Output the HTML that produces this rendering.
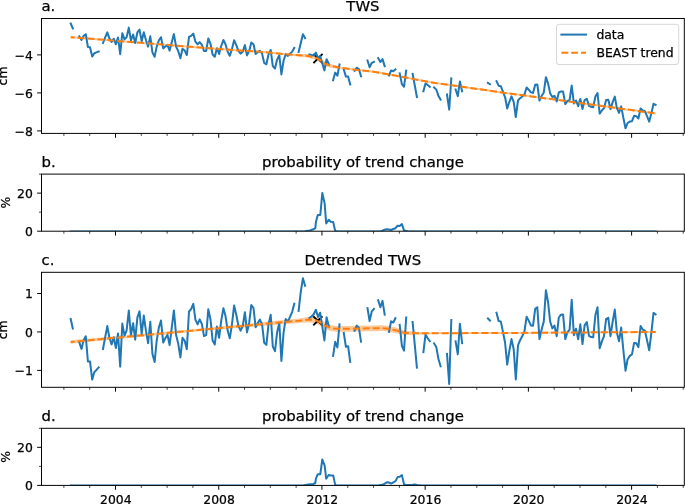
<!DOCTYPE html>
<html><head><meta charset="utf-8"><title>TWS BEAST trend</title><style>html,body{margin:0;padding:0;background:#fff}svg{display:block;will-change:transform;opacity:0.999}text{stroke:#000;stroke-width:0.25px}</style></head><body>
<svg width="685" height="504" viewBox="0 0 685 504" font-family="'DejaVu Sans', 'Liberation Sans', sans-serif">
<rect width="685" height="504" fill="#fff"/>
<g clip-path="url(#clipa)">
<clipPath id="clipa"><rect x="41.5" y="18.5" width="642.8" height="114.9"/></clipPath>
<polygon points="70.7,36.2 74.7,36.5 78.7,36.8 82.7,37.2 86.7,37.5 90.7,37.8 94.7,38.1 98.7,38.4 102.7,38.7 106.7,39.1 110.7,39.4 114.7,39.7 118.7,40.0 122.7,40.3 126.7,40.7 130.7,41.0 134.7,41.3 138.7,41.6 142.7,41.9 146.7,42.2 150.7,42.6 154.7,42.9 155.0,42.9 158.7,43.2 162.7,43.5 166.7,43.9 170.7,44.2 174.7,44.5 178.7,44.8 182.7,45.2 186.7,45.5 190.7,45.8 194.7,46.2 198.7,46.5 202.7,46.8 205.0,47.0 206.7,47.1 210.7,47.4 214.7,47.7 218.7,48.0 222.7,48.2 226.7,48.5 230.7,48.8 234.7,49.1 238.7,49.4 242.7,49.6 246.7,49.9 250.7,50.2 254.7,50.5 258.7,50.8 262.7,51.0 265.0,51.2 266.7,51.4 270.7,51.7 274.7,52.1 278.7,52.5 282.7,52.9 286.7,53.3 290.0,53.6 290.7,53.7 294.7,53.9 298.7,54.0 302.7,54.1 306.7,54.1 307.5,54.1 310.7,54.6 314.5,55.1 314.7,55.2 318.7,56.9 319.8,57.4 322.7,59.7 325.0,61.6 326.7,62.3 330.7,64.0 331.2,64.2 334.7,65.1 338.7,66.2 339.0,66.2 342.7,67.0 346.7,67.6 350.0,68.1 350.7,68.2 354.7,68.6 358.7,69.1 362.7,69.5 366.7,70.0 370.7,70.4 374.7,70.9 375.0,70.9 378.7,71.6 382.7,72.3 386.7,73.1 390.7,73.8 394.7,74.5 395.0,74.6 398.7,75.3 402.7,76.0 406.7,76.8 410.7,77.5 414.7,78.2 418.7,79.0 422.7,79.7 426.7,80.5 430.7,81.2 434.7,81.9 435.0,82.0 438.7,82.5 442.7,83.0 446.7,83.6 450.7,84.1 454.7,84.7 455.0,84.7 458.7,85.2 462.7,85.8 466.7,86.4 470.7,87.0 474.7,87.5 478.7,88.1 482.7,88.7 486.7,89.3 490.7,89.8 494.7,90.4 498.7,91.0 502.7,91.6 505.0,91.9 506.7,92.1 510.7,92.7 514.7,93.2 518.7,93.7 522.7,94.3 526.7,94.8 530.7,95.3 534.7,95.9 538.7,96.4 542.7,97.0 546.7,97.5 550.7,98.0 554.7,98.6 555.0,98.6 558.7,99.1 562.7,99.6 566.7,100.2 570.7,100.7 574.7,101.3 578.7,101.8 582.7,102.4 586.7,102.9 590.7,103.5 594.7,104.0 598.7,104.5 602.7,105.1 605.0,105.4 606.7,105.6 610.7,106.2 614.7,106.8 618.7,107.3 622.7,107.9 626.7,108.4 630.7,109.0 634.7,109.6 638.7,110.1 642.7,110.7 646.7,111.2 650.7,111.8 654.7,112.3 655.8,112.5 655.8,114.5 654.7,114.3 650.7,113.8 646.7,113.2 642.7,112.7 638.7,112.1 634.7,111.6 630.7,111.0 626.7,110.4 622.7,109.9 618.7,109.3 614.7,108.8 610.7,108.2 606.7,107.6 605.0,107.4 602.7,107.1 598.7,106.5 594.7,106.0 590.7,105.5 586.7,104.9 582.7,104.4 578.7,103.8 574.7,103.3 570.7,102.7 566.7,102.2 562.7,101.6 558.7,101.1 555.0,100.6 554.7,100.6 550.7,100.0 546.7,99.5 542.7,99.0 538.7,98.4 534.7,97.9 530.7,97.3 526.7,96.8 522.7,96.3 518.7,95.7 514.7,95.2 510.7,94.7 506.7,94.1 505.0,93.9 502.7,93.6 498.7,93.0 494.7,92.4 490.7,91.8 486.7,91.3 482.7,90.7 478.7,90.1 474.7,89.5 470.7,89.0 466.7,88.4 462.7,87.8 458.7,87.2 455.0,86.7 454.7,86.7 450.7,86.1 446.7,85.6 442.7,85.0 438.7,84.5 435.0,84.0 434.7,83.9 430.7,83.2 426.7,82.5 422.7,81.7 418.7,81.0 414.7,80.2 410.7,79.5 406.7,78.8 402.7,78.0 398.7,77.3 395.0,76.6 394.7,76.5 390.7,75.8 386.7,75.1 382.7,74.3 378.7,73.6 375.0,72.9 374.7,72.9 370.7,72.4 366.7,72.0 362.7,71.5 358.7,71.1 354.7,70.6 350.7,70.2 350.0,70.1 346.7,69.6 342.7,69.2 339.0,69.0 338.7,68.9 334.7,68.3 331.2,67.8 330.7,67.7 326.7,66.5 325.0,66.0 322.7,64.4 319.8,62.4 318.7,61.8 314.7,59.6 314.5,59.5 310.7,58.5 307.5,57.6 306.7,57.5 302.7,57.0 298.7,56.5 294.7,55.9 290.7,55.7 290.0,55.6 286.7,55.3 282.7,54.9 278.7,54.5 274.7,54.1 270.7,53.7 266.7,53.4 265.0,53.2 262.7,53.0 258.7,52.8 254.7,52.5 250.7,52.2 246.7,51.9 242.7,51.6 238.7,51.4 234.7,51.1 230.7,50.8 226.7,50.5 222.7,50.2 218.7,50.0 214.7,49.7 210.7,49.4 206.7,49.1 205.0,49.0 202.7,48.8 198.7,48.5 194.7,48.2 190.7,47.8 186.7,47.5 182.7,47.2 178.7,46.8 174.7,46.5 170.7,46.2 166.7,45.9 162.7,45.5 158.7,45.2 155.0,44.9 154.7,44.9 150.7,44.6 146.7,44.2 142.7,43.9 138.7,43.6 134.7,43.3 130.7,43.0 126.7,42.7 122.7,42.3 118.7,42.0 114.7,41.7 110.7,41.4 106.7,41.1 102.7,40.7 98.7,40.4 94.7,40.1 90.7,39.8 86.7,39.5 82.7,39.2 78.7,38.8 74.7,38.5 70.7,38.2" fill="#ff7f0e" fill-opacity="0.42"/>
<path d="M314.1,54.6L321.9,62.4M314.1,62.4L321.9,54.6" stroke="#000" stroke-width="1.875" stroke-linecap="square"/>
<polyline points="70.7,23.5 72.8,28.5" fill="none" stroke="#1f77b4" stroke-width="2.0" stroke-linejoin="round" stroke-linecap="square"/>
<polyline points="79.3,36.3 81.5,39.9 83.6,35.9 85.8,34.2 87.9,47.0 90.0,47.3 92.2,56.6 94.3,53.3 96.5,52.4 98.7,51.5" fill="none" stroke="#1f77b4" stroke-width="2.0" stroke-linejoin="round" stroke-linecap="square"/>
<polyline points="103.0,43.0 105.1,37.6 107.3,32.3 109.4,38.4 111.6,41.9 113.7,38.7 115.9,44.3 118.0,37.5 120.2,54.2 122.3,33.2 124.5,39.4 126.6,37.2 128.8,27.6 130.9,40.3 133.1,34.5 135.2,43.0 137.4,32.3 139.5,29.6 141.7,41.2 143.8,32.3 146.0,40.3 148.1,46.6 150.3,36.3 152.4,52.4 154.6,56.8 156.7,46.6 158.9,40.3 161.0,37.2 163.2,48.4 165.3,46.6 167.5,45.2 169.6,50.6 171.8,42.1 173.9,34.1 176.1,46.6 178.2,51.0 180.4,58.2 182.5,48.8 184.7,50.6 186.8,55.0 189.0,36.8 191.1,35.9 193.3,33.6 195.4,41.7 197.6,44.3 199.7,42.1 201.9,44.8 204.0,51.0 206.2,50.9 208.3,38.4 210.5,43.8 212.6,54.5 214.8,56.7 216.9,48.2 219.1,54.0 221.2,46.0 223.4,40.0 225.5,44.2 227.7,51.8 229.8,55.8 232.0,49.1 234.1,40.2 236.3,45.1 238.4,50.9 240.6,53.6 242.7,51.8 244.9,45.1 247.0,55.4 249.2,50.9 251.3,42.4 253.5,44.2 255.6,54.0 257.8,52.2 259.9,50.9 262.1,53.6 264.2,63.0 266.4,64.3 268.5,54.5 270.7,50.0 272.8,66.1 275.0,68.6 277.1,59.6 279.3,55.2 281.4,74.4 283.6,60.5 285.7,54.3 287.9,55.9 290.0,53.8 292.2,51.6 294.3,47.9" fill="none" stroke="#1f77b4" stroke-width="2.0" stroke-linejoin="round" stroke-linecap="square"/>
<polyline points="298.6,52.0 300.8,42.9 302.9,34.3 305.1,38.1" fill="none" stroke="#1f77b4" stroke-width="2.0" stroke-linejoin="round" stroke-linecap="square"/>
<polyline points="309.4,54.4 311.5,54.9 313.7,55.6 315.9,52.6 318.0,57.9 320.1,56.1 322.3,63.2 324.4,70.4 326.6,59.2 328.8,64.1" fill="none" stroke="#1f77b4" stroke-width="2.0" stroke-linejoin="round" stroke-linecap="square"/>
<polyline points="333.1,80.2 335.2,72.6 337.4,75.7 339.5,64.5" fill="none" stroke="#1f77b4" stroke-width="2.0" stroke-linejoin="round" stroke-linecap="square"/>
<polyline points="343.8,69.5 345.9,76.6 348.1,76.6 350.2,84.6" fill="none" stroke="#1f77b4" stroke-width="2.0" stroke-linejoin="round" stroke-linecap="square"/>
<polyline points="354.6,70.8 356.7,67.7 358.9,69.0 361.0,76.2" fill="none" stroke="#1f77b4" stroke-width="2.0" stroke-linejoin="round" stroke-linecap="square"/>
<polyline points="367.5,60.5 369.6,67.2 371.8,62.8 373.9,61.9" fill="none" stroke="#1f77b4" stroke-width="2.0" stroke-linejoin="round" stroke-linecap="square"/>
<polyline points="378.2,58.2 380.4,62.0 382.5,59.1 384.7,66.2" fill="none" stroke="#1f77b4" stroke-width="2.0" stroke-linejoin="round" stroke-linecap="square"/>
<polyline points="389.0,75.4 391.1,70.5 393.3,71.3 395.4,69.5" fill="none" stroke="#1f77b4" stroke-width="2.0" stroke-linejoin="round" stroke-linecap="square"/>
<polyline points="399.7,73.4 401.9,84.1 404.0,86.8 406.2,70.7" fill="none" stroke="#1f77b4" stroke-width="2.0" stroke-linejoin="round" stroke-linecap="square"/>
<polyline points="412.6,73.8 414.8,85.5 416.9,97.0" fill="none" stroke="#1f77b4" stroke-width="2.0" stroke-linejoin="round" stroke-linecap="square"/>
<polyline points="423.4,91.2 425.5,83.4 427.7,85.0 429.8,86.8" fill="none" stroke="#1f77b4" stroke-width="2.0" stroke-linejoin="round" stroke-linecap="square"/>
<polyline points="434.1,87.5 436.3,89.6 438.4,95.7 440.6,99.7" fill="none" stroke="#1f77b4" stroke-width="2.0" stroke-linejoin="round" stroke-linecap="square"/>
<polyline points="447.0,94.5 449.2,109.6 451.3,78.4" fill="none" stroke="#1f77b4" stroke-width="2.0" stroke-linejoin="round" stroke-linecap="square"/>
<polyline points="455.6,89.5 457.8,96.2 459.9,81.5 462.1,91.3" fill="none" stroke="#1f77b4" stroke-width="2.0" stroke-linejoin="round" stroke-linecap="square"/>
<polyline points="487.9,82.9 490.0,84.2" fill="none" stroke="#1f77b4" stroke-width="2.0" stroke-linejoin="round" stroke-linecap="square"/>
<polyline points="496.5,81.2 498.6,85.7 500.8,86.2 502.9,91.5 505.1,97.3 507.2,108.5 509.4,101.8 511.5,96.4 513.7,101.8 515.8,117.0 518.0,100.5 520.1,98.2 522.3,96.4 524.4,94.6 526.6,87.5 528.7,89.7 530.9,92.4 533.0,92.9 535.2,84.8 537.3,84.4 539.5,100.5 541.6,96.0 543.8,92.4 545.9,77.2 548.1,83.6 550.2,93.4 552.4,97.0 554.5,95.9 556.7,101.4 558.8,92.5 561.0,91.4 563.1,91.6 565.3,104.1 567.4,101.0 569.6,100.1 571.7,85.5 573.9,103.4 576.0,100.5 578.2,106.1 580.3,98.9 582.5,109.0 584.6,100.1 586.8,98.8 589.0,105.9 591.1,106.8 593.2,107.2 595.4,96.5 597.5,93.0 599.7,113.6 601.9,110.5 604.0,108.2 606.1,100.0 608.3,99.7 610.5,109.1 612.6,102.4 614.8,96.6 616.9,108.2 619.0,112.9 621.2,106.4 623.4,118.0 625.5,128.3 627.6,123.0 629.8,121.6 632.0,121.2 634.1,115.8 636.3,116.2 638.4,118.5 640.6,108.4 642.7,110.5 644.9,111.3 647.0,116.2 649.2,121.6 651.3,113.6 653.5,103.8 655.6,104.8" fill="none" stroke="#1f77b4" stroke-width="2.0" stroke-linejoin="round" stroke-linecap="square"/>
<polyline points="70.7,37.2 155.0,43.9 205.0,48.0 265.0,52.2 290.0,54.6 307.5,55.9 314.5,57.3 319.8,59.9 325.0,63.8 331.2,66.0 339.0,67.6 350.0,69.1 375.0,71.9 395.0,75.6 435.0,83.0 455.0,85.7 505.0,92.9 555.0,99.6 605.0,106.4 655.8,113.5" fill="none" stroke="#ff7f0e" stroke-width="2.0" stroke-linejoin="round" stroke-dasharray="6.94 3" stroke-dashoffset="3"/>
</g>
<rect x="41.5" y="18.5" width="642.8" height="114.9" fill="none" stroke="#000" stroke-width="0.98"/>
<line x1="63.89" x2="63.89" y1="133.4" y2="135.9" stroke="#000" stroke-width="0.74"/>
<line x1="89.69" x2="89.69" y1="133.4" y2="135.9" stroke="#000" stroke-width="0.74"/>
<line x1="115.50" x2="115.50" y1="133.4" y2="137.775" stroke="#000" stroke-width="0.98"/>
<line x1="141.31" x2="141.31" y1="133.4" y2="135.9" stroke="#000" stroke-width="0.74"/>
<line x1="167.11" x2="167.11" y1="133.4" y2="135.9" stroke="#000" stroke-width="0.74"/>
<line x1="192.91" x2="192.91" y1="133.4" y2="135.9" stroke="#000" stroke-width="0.74"/>
<line x1="218.72" x2="218.72" y1="133.4" y2="137.775" stroke="#000" stroke-width="0.98"/>
<line x1="244.53" x2="244.53" y1="133.4" y2="135.9" stroke="#000" stroke-width="0.74"/>
<line x1="270.33" x2="270.33" y1="133.4" y2="135.9" stroke="#000" stroke-width="0.74"/>
<line x1="296.13" x2="296.13" y1="133.4" y2="135.9" stroke="#000" stroke-width="0.74"/>
<line x1="321.94" x2="321.94" y1="133.4" y2="137.775" stroke="#000" stroke-width="0.98"/>
<line x1="347.75" x2="347.75" y1="133.4" y2="135.9" stroke="#000" stroke-width="0.74"/>
<line x1="373.55" x2="373.55" y1="133.4" y2="135.9" stroke="#000" stroke-width="0.74"/>
<line x1="399.36" x2="399.36" y1="133.4" y2="135.9" stroke="#000" stroke-width="0.74"/>
<line x1="425.16" x2="425.16" y1="133.4" y2="137.775" stroke="#000" stroke-width="0.98"/>
<line x1="450.96" x2="450.96" y1="133.4" y2="135.9" stroke="#000" stroke-width="0.74"/>
<line x1="476.77" x2="476.77" y1="133.4" y2="135.9" stroke="#000" stroke-width="0.74"/>
<line x1="502.57" x2="502.57" y1="133.4" y2="135.9" stroke="#000" stroke-width="0.74"/>
<line x1="528.38" x2="528.38" y1="133.4" y2="137.775" stroke="#000" stroke-width="0.98"/>
<line x1="554.18" x2="554.18" y1="133.4" y2="135.9" stroke="#000" stroke-width="0.74"/>
<line x1="579.99" x2="579.99" y1="133.4" y2="135.9" stroke="#000" stroke-width="0.74"/>
<line x1="605.80" x2="605.80" y1="133.4" y2="135.9" stroke="#000" stroke-width="0.74"/>
<line x1="631.60" x2="631.60" y1="133.4" y2="137.775" stroke="#000" stroke-width="0.98"/>
<line x1="657.40" x2="657.40" y1="133.4" y2="135.9" stroke="#000" stroke-width="0.74"/>
<line x1="683.21" x2="683.21" y1="133.4" y2="135.9" stroke="#000" stroke-width="0.74"/>
<g clip-path="url(#clipb)">
<clipPath id="clipb"><rect x="41.5" y="174.1" width="642.8" height="57.099999999999994"/></clipPath>
<polyline points="70.7,231.4 72.8,231.4 75.0,231.4 77.2,231.4 79.3,231.4 81.5,231.4 83.6,231.4 85.8,231.4 87.9,231.4 90.0,231.4 92.2,231.4 94.3,231.4 96.5,231.4 98.7,231.4 100.8,231.4 103.0,231.4 105.1,231.4 107.3,231.4 109.4,231.4 111.6,231.4 113.7,231.4 115.9,231.4 118.0,231.4 120.2,231.4 122.3,231.4 124.5,231.4 126.6,231.4 128.8,231.4 130.9,231.4 133.1,231.4 135.2,231.4 137.4,231.4 139.5,231.4 141.7,231.4 143.8,231.4 146.0,231.4 148.1,231.4 150.3,231.4 152.4,231.4 154.6,231.4 156.7,231.4 158.9,231.4 161.0,231.4 163.2,231.4 165.3,231.4 167.5,231.4 169.6,231.4 171.8,231.4 173.9,231.4 176.1,231.4 178.2,231.4 180.4,231.4 182.5,231.4 184.7,231.4 186.8,231.4 189.0,231.4 191.1,231.4 193.3,231.4 195.4,231.4 197.6,231.4 199.7,231.4 201.9,231.4 204.0,231.4 206.2,231.4 208.3,231.4 210.5,231.4 212.6,231.4 214.8,231.4 216.9,231.4 219.1,231.4 221.2,231.4 223.4,231.4 225.5,231.4 227.7,231.4 229.8,231.4 232.0,231.4 234.1,231.4 236.3,231.4 238.4,231.4 240.6,231.4 242.7,231.4 244.9,231.4 247.0,231.4 249.2,231.4 251.3,231.4 253.5,231.4 255.6,231.4 257.8,231.4 259.9,231.4 262.1,231.4 264.2,231.4 266.4,231.4 268.5,231.4 270.7,231.4 272.8,231.4 275.0,231.4 277.1,231.4 279.3,231.4 281.4,231.4 283.6,231.4 285.7,231.4 287.9,231.4 290.0,231.4 292.2,231.4 294.3,231.4 296.5,231.4 298.6,231.4 300.8,231.4 302.9,231.4 304.9,231.2 309.9,230.4 313.4,229.3 315.3,228.1 315.9,222.1 317.8,215.0 320.3,215.0 322.3,192.9 324.6,203.1 326.2,223.4 328.7,219.7 330.7,221.7 333.2,222.1 335.2,231.0 337.4,231.4 339.5,231.4 341.6,231.4 343.8,231.4 345.9,231.4 348.1,231.4 350.2,231.4 352.4,231.4 354.6,231.4 356.7,231.4 358.9,231.4 361.0,231.4 363.1,231.4 365.3,231.4 367.5,231.4 369.6,231.4 371.8,231.4 373.9,231.4 376.1,231.4 378.2,231.4 380.4,231.4 382.5,230.6 384.7,229.8 386.8,229.3 389.0,229.5 391.1,230.0 393.3,229.0 395.4,228.2 397.6,225.8 399.7,226.0 401.9,224.1 404.0,230.4 406.2,230.9 408.3,231.4 410.5,231.4 412.6,231.4 414.8,231.4 416.9,231.4 419.1,231.4 421.2,231.4 423.4,231.4 425.5,231.4 427.7,231.4 429.8,231.4 432.0,231.4 434.1,231.4 436.3,231.4 438.4,231.4 440.6,231.4 442.7,231.4 444.9,231.4 447.0,231.4 449.2,231.4 451.3,231.4 453.5,231.4 455.6,231.4 457.8,231.4 459.9,231.4 462.1,231.4 464.2,231.4 466.4,231.4 468.5,231.4 470.7,231.4 472.8,231.4 475.0,231.4 477.1,231.4 479.3,231.4 481.4,231.4 483.6,231.4 485.7,231.4 487.9,231.4 490.0,231.4 492.2,231.4 494.3,231.4 496.5,231.4 498.6,231.4 500.8,231.4 502.9,231.4 505.1,231.4 507.2,231.4 509.4,231.4 511.5,231.4 513.7,231.4 515.8,231.4 518.0,231.4 520.1,231.4 522.3,231.4 524.4,231.4 526.6,231.4 528.7,231.4 530.9,231.4 533.0,231.4 535.2,231.4 537.3,231.4 539.5,231.4 541.6,231.4 543.8,231.4 545.9,231.4 548.1,231.4 550.2,231.4 552.4,231.4 554.5,231.4 556.7,231.4 558.8,231.4 561.0,231.4 563.1,231.4 565.3,231.4 567.4,231.4 569.6,231.4 571.7,231.4 573.9,231.4 576.0,231.4 578.2,231.4 580.3,231.4 582.5,231.4 584.6,231.4 586.8,231.4 589.0,231.4 591.1,231.4 593.2,231.4 595.4,231.4 597.5,231.4 599.7,231.4 601.9,231.4 604.0,231.4 606.1,231.4 608.3,231.4 610.5,231.4 612.6,231.4 614.8,231.4 616.9,231.4 619.0,231.4 621.2,231.4 623.4,231.4 625.5,231.4 627.6,231.4 629.8,231.4 632.0,231.4 634.1,231.4 636.3,231.4 638.4,231.4 640.6,231.4 642.7,231.4 644.9,231.4 647.0,231.4 649.2,231.4 651.3,231.4 653.5,231.4 655.6,231.4" fill="none" stroke="#1f77b4" stroke-width="2.0" stroke-linejoin="round" stroke-linecap="square"/>
</g>
<rect x="41.5" y="174.1" width="642.8" height="57.099999999999994" fill="none" stroke="#000" stroke-width="0.98"/>
<line x1="63.89" x2="63.89" y1="231.2" y2="233.7" stroke="#000" stroke-width="0.74"/>
<line x1="89.69" x2="89.69" y1="231.2" y2="233.7" stroke="#000" stroke-width="0.74"/>
<line x1="115.50" x2="115.50" y1="231.2" y2="235.575" stroke="#000" stroke-width="0.98"/>
<line x1="141.31" x2="141.31" y1="231.2" y2="233.7" stroke="#000" stroke-width="0.74"/>
<line x1="167.11" x2="167.11" y1="231.2" y2="233.7" stroke="#000" stroke-width="0.74"/>
<line x1="192.91" x2="192.91" y1="231.2" y2="233.7" stroke="#000" stroke-width="0.74"/>
<line x1="218.72" x2="218.72" y1="231.2" y2="235.575" stroke="#000" stroke-width="0.98"/>
<line x1="244.53" x2="244.53" y1="231.2" y2="233.7" stroke="#000" stroke-width="0.74"/>
<line x1="270.33" x2="270.33" y1="231.2" y2="233.7" stroke="#000" stroke-width="0.74"/>
<line x1="296.13" x2="296.13" y1="231.2" y2="233.7" stroke="#000" stroke-width="0.74"/>
<line x1="321.94" x2="321.94" y1="231.2" y2="235.575" stroke="#000" stroke-width="0.98"/>
<line x1="347.75" x2="347.75" y1="231.2" y2="233.7" stroke="#000" stroke-width="0.74"/>
<line x1="373.55" x2="373.55" y1="231.2" y2="233.7" stroke="#000" stroke-width="0.74"/>
<line x1="399.36" x2="399.36" y1="231.2" y2="233.7" stroke="#000" stroke-width="0.74"/>
<line x1="425.16" x2="425.16" y1="231.2" y2="235.575" stroke="#000" stroke-width="0.98"/>
<line x1="450.96" x2="450.96" y1="231.2" y2="233.7" stroke="#000" stroke-width="0.74"/>
<line x1="476.77" x2="476.77" y1="231.2" y2="233.7" stroke="#000" stroke-width="0.74"/>
<line x1="502.57" x2="502.57" y1="231.2" y2="233.7" stroke="#000" stroke-width="0.74"/>
<line x1="528.38" x2="528.38" y1="231.2" y2="235.575" stroke="#000" stroke-width="0.98"/>
<line x1="554.18" x2="554.18" y1="231.2" y2="233.7" stroke="#000" stroke-width="0.74"/>
<line x1="579.99" x2="579.99" y1="231.2" y2="233.7" stroke="#000" stroke-width="0.74"/>
<line x1="605.80" x2="605.80" y1="231.2" y2="233.7" stroke="#000" stroke-width="0.74"/>
<line x1="631.60" x2="631.60" y1="231.2" y2="235.575" stroke="#000" stroke-width="0.98"/>
<line x1="657.40" x2="657.40" y1="231.2" y2="233.7" stroke="#000" stroke-width="0.74"/>
<line x1="683.21" x2="683.21" y1="231.2" y2="233.7" stroke="#000" stroke-width="0.74"/>
<g clip-path="url(#clipc)">
<clipPath id="clipc"><rect x="41.5" y="272.3" width="642.8" height="115.0"/></clipPath>
<polygon points="70.7,340.3 74.7,339.9 78.7,339.5 82.7,339.2 86.7,338.8 90.7,338.5 94.7,338.1 98.7,337.7 102.7,337.4 106.7,337.0 110.7,336.7 114.7,336.3 118.7,335.9 122.7,335.6 126.7,335.2 130.7,334.8 134.7,334.5 138.7,334.1 142.7,333.8 146.7,333.4 150.7,333.0 154.7,332.7 158.7,332.3 162.7,332.0 166.7,331.6 170.7,331.2 174.7,330.9 178.7,330.5 182.7,330.2 186.7,329.8 190.7,329.4 194.7,329.1 198.7,328.7 202.7,328.3 206.7,327.9 210.7,327.5 214.7,327.1 218.7,326.7 222.7,326.3 226.7,325.8 230.7,325.4 234.7,325.0 238.7,324.6 242.7,324.2 246.7,323.8 250.7,323.4 254.7,322.9 258.7,322.5 262.7,322.1 266.7,321.7 270.7,321.3 274.7,320.9 278.7,320.5 282.7,320.1 286.7,319.6 290.0,319.3 290.7,319.2 294.7,318.9 298.7,318.5 298.8,318.5 302.7,317.9 306.7,317.2 310.1,316.6 310.7,316.6 314.7,316.8 315.4,316.9 318.7,318.2 319.8,318.7 322.7,320.8 325.0,322.4 326.7,323.2 330.3,324.9 330.7,324.9 334.7,325.8 335.5,325.9 338.7,325.9 342.7,325.9 346.7,325.9 350.0,325.9 350.7,325.9 354.7,325.8 358.7,325.7 362.7,325.6 366.7,325.5 370.7,325.4 374.7,325.4 378.7,325.3 382.0,325.2 382.7,325.3 386.7,325.7 388.2,325.9 390.7,326.4 394.7,327.2 396.3,327.5 398.7,328.4 402.7,329.9 404.5,330.6 406.7,330.8 410.7,331.2 414.7,331.5 418.7,331.9 420.9,332.1 422.7,332.2 426.7,332.4 430.7,332.4 434.7,332.3 438.7,332.3 442.7,332.3 446.7,332.3 450.7,332.3 454.7,332.3 458.7,332.2 462.7,332.2 466.7,332.2 470.7,332.2 474.7,332.2 478.7,332.2 482.7,332.2 486.7,332.1 490.7,332.1 494.7,332.1 498.7,332.1 502.7,332.1 506.7,332.1 510.7,332.0 514.7,332.0 518.7,332.0 520.0,332.0 522.7,332.0 526.7,331.9 530.7,331.9 534.7,331.9 538.7,331.9 542.7,331.8 546.7,331.8 550.7,331.8 554.7,331.7 558.7,331.7 562.7,331.7 566.7,331.6 570.7,331.6 574.7,331.6 578.7,331.6 582.7,331.5 586.7,331.5 590.7,331.5 594.7,331.4 598.7,331.4 600.0,331.4 602.7,331.4 606.7,331.4 610.7,331.3 614.7,331.3 618.7,331.3 622.7,331.3 626.7,331.3 630.7,331.2 634.7,331.2 638.7,331.2 642.7,331.2 646.7,331.1 650.7,331.1 654.7,331.1 655.8,331.1 655.8,332.9 654.7,332.9 650.7,332.9 646.7,332.9 642.7,333.0 638.7,333.0 634.7,333.0 630.7,333.0 626.7,333.1 622.7,333.1 618.7,333.1 614.7,333.1 610.7,333.1 606.7,333.2 602.7,333.2 600.0,333.2 598.7,333.2 594.7,333.2 590.7,333.3 586.7,333.3 582.7,333.3 578.7,333.4 574.7,333.4 570.7,333.4 566.7,333.4 562.7,333.5 558.7,333.5 554.7,333.5 550.7,333.6 546.7,333.6 542.7,333.6 538.7,333.7 534.7,333.7 530.7,333.7 526.7,333.7 522.7,333.8 520.0,333.8 518.7,333.8 514.7,333.8 510.7,333.8 506.7,333.9 502.7,333.9 498.7,333.9 494.7,333.9 490.7,333.9 486.7,333.9 482.7,334.0 478.7,334.0 474.7,334.0 470.7,334.0 466.7,334.0 462.7,334.0 458.7,334.0 454.7,334.1 450.7,334.1 446.7,334.1 442.7,334.1 438.7,334.1 434.7,334.1 430.7,334.2 426.7,334.2 422.7,334.4 420.9,334.5 418.7,334.6 414.7,334.8 410.7,334.9 406.7,335.1 404.5,335.2 402.7,334.8 398.7,333.8 396.3,333.3 394.7,333.0 390.7,332.2 388.2,331.7 386.7,331.5 382.7,331.1 382.0,331.0 378.7,331.1 374.7,331.2 370.7,331.2 366.7,331.3 362.7,331.4 358.7,331.5 354.7,331.6 350.7,331.7 350.0,331.7 346.7,331.7 342.7,331.7 338.7,331.7 335.5,331.7 334.7,331.6 330.7,331.0 330.3,330.9 326.7,329.5 325.0,328.8 322.7,327.3 319.8,325.5 318.7,325.0 315.4,323.3 314.7,323.2 310.7,322.5 310.1,322.4 306.7,322.6 302.7,322.8 298.8,323.1 298.7,323.1 294.7,323.4 290.7,323.7 290.0,323.7 286.7,324.0 282.7,324.3 278.7,324.6 274.7,325.0 270.7,325.3 266.7,325.6 262.7,326.0 258.7,326.3 254.7,326.6 250.7,327.0 246.7,327.3 242.7,327.6 238.7,328.0 234.7,328.3 230.7,328.6 226.7,329.0 222.7,329.3 218.7,329.6 214.7,330.0 210.7,330.3 206.7,330.6 202.7,331.0 198.7,331.3 194.7,331.7 190.7,332.1 186.7,332.5 182.7,332.9 178.7,333.2 174.7,333.6 170.7,334.0 166.7,334.4 162.7,334.8 158.7,335.2 154.7,335.6 150.7,335.9 146.7,336.3 142.7,336.7 138.7,337.1 134.7,337.5 130.7,337.9 126.7,338.3 122.7,338.6 118.7,339.0 114.7,339.4 110.7,339.8 106.7,340.2 102.7,340.6 98.7,341.0 94.7,341.3 90.7,341.7 86.7,342.1 82.7,342.5 78.7,342.9 74.7,343.3 70.7,343.7" fill="#ff7f0e" fill-opacity="0.42"/>
<path d="M313.95000000000005,316.90000000000003L321.75,324.7M313.95000000000005,324.7L321.75,316.90000000000003" stroke="#000" stroke-width="1.875" stroke-linecap="square"/>
<polyline points="70.7,319.0 72.8,328.5" fill="none" stroke="#1f77b4" stroke-width="2.0" stroke-linejoin="round" stroke-linecap="square"/>
<polyline points="79.3,342.3 81.5,348.9 83.6,340.2 85.8,336.3 87.9,361.5 90.0,361.4 92.2,379.6 94.3,372.3 96.5,369.9 98.7,367.4" fill="none" stroke="#1f77b4" stroke-width="2.0" stroke-linejoin="round" stroke-linecap="square"/>
<polyline points="103.0,349.0 105.1,337.6 107.3,326.1 109.4,337.8 111.6,344.4 113.7,337.2 115.9,348.0 118.0,333.5 120.2,366.6 122.3,323.6 124.5,335.6 126.6,330.5 128.8,310.5 130.9,335.5 133.1,323.2 135.2,339.7 137.4,317.4 139.5,311.4 141.7,334.2 143.8,315.6 146.0,331.2 148.1,343.2 150.3,321.8 152.4,353.7 154.6,362.1 156.7,340.7 158.9,327.4 161.0,320.5 163.2,342.5 165.3,338.2 167.5,334.9 169.6,345.1 171.8,327.3 173.9,310.4 176.1,335.1 178.2,343.6 180.4,357.4 182.5,337.8 184.7,340.8 186.8,349.2 189.0,311.5 191.1,309.1 193.3,303.9 195.4,319.6 197.6,324.4 199.7,319.3 201.9,324.1 204.0,336.1 206.2,335.1 208.3,309.2 210.5,319.5 212.6,340.5 214.8,344.4 216.9,326.6 219.1,337.8 221.2,320.9 223.4,308.2 225.5,316.0 227.7,330.8 229.8,338.3 232.0,324.1 234.1,305.4 236.3,314.7 238.4,325.9 240.6,330.6 242.7,326.4 244.9,312.2 247.0,332.4 249.2,322.7 251.3,305.0 253.5,308.0 255.6,327.2 257.8,323.0 259.9,319.6 262.1,324.4 264.2,342.8 266.4,344.9 268.5,324.4 270.7,314.7 272.8,346.6 275.0,351.1 277.1,332.4 279.3,322.7 281.4,361.0 283.6,332.3 285.7,319.1 287.9,321.7 290.0,316.9 292.2,311.8 294.3,303.6" fill="none" stroke="#1f77b4" stroke-width="2.0" stroke-linejoin="round" stroke-linecap="square"/>
<polyline points="298.6,310.8 300.8,291.6 302.9,278.3 305.1,285.8" fill="none" stroke="#1f77b4" stroke-width="2.0" stroke-linejoin="round" stroke-linecap="square"/>
<polyline points="309.4,318.0 311.5,316.5 313.7,314.2 315.9,309.8 318.0,317.0 320.1,312.7 322.3,326.6 324.4,340.4 326.6,317.2 328.8,326.5" fill="none" stroke="#1f77b4" stroke-width="2.0" stroke-linejoin="round" stroke-linecap="square"/>
<polyline points="333.1,355.8 335.2,341.8 337.4,347.5 339.5,324.3" fill="none" stroke="#1f77b4" stroke-width="2.0" stroke-linejoin="round" stroke-linecap="square"/>
<polyline points="343.8,333.0 345.9,346.8 348.1,346.2 350.2,361.8" fill="none" stroke="#1f77b4" stroke-width="2.0" stroke-linejoin="round" stroke-linecap="square"/>
<polyline points="354.6,330.6 356.7,325.6 358.9,327.7 361.0,341.6" fill="none" stroke="#1f77b4" stroke-width="2.0" stroke-linejoin="round" stroke-linecap="square"/>
<polyline points="367.5,308.1 369.6,321.0 371.8,311.4 373.9,308.9" fill="none" stroke="#1f77b4" stroke-width="2.0" stroke-linejoin="round" stroke-linecap="square"/>
<polyline points="378.2,300.3 380.4,307.2 382.5,300.9 384.7,314.7" fill="none" stroke="#1f77b4" stroke-width="2.0" stroke-linejoin="round" stroke-linecap="square"/>
<polyline points="389.0,331.9 391.1,321.3 393.3,322.5 395.4,318.2" fill="none" stroke="#1f77b4" stroke-width="2.0" stroke-linejoin="round" stroke-linecap="square"/>
<polyline points="399.7,324.8 401.9,345.9 404.0,350.7 406.2,317.5" fill="none" stroke="#1f77b4" stroke-width="2.0" stroke-linejoin="round" stroke-linecap="square"/>
<polyline points="412.6,322.0 414.8,344.8 416.9,367.7" fill="none" stroke="#1f77b4" stroke-width="2.0" stroke-linejoin="round" stroke-linecap="square"/>
<polyline points="423.4,352.1 425.5,334.6 427.7,338.2 429.8,341.2" fill="none" stroke="#1f77b4" stroke-width="2.0" stroke-linejoin="round" stroke-linecap="square"/>
<polyline points="434.1,343.4 436.3,347.1 438.4,358.8 440.6,366.3" fill="none" stroke="#1f77b4" stroke-width="2.0" stroke-linejoin="round" stroke-linecap="square"/>
<polyline points="447.0,353.8 449.2,383.9 451.3,320.0" fill="none" stroke="#1f77b4" stroke-width="2.0" stroke-linejoin="round" stroke-linecap="square"/>
<polyline points="455.6,341.3 457.8,354.3 459.9,323.8 462.1,343.1" fill="none" stroke="#1f77b4" stroke-width="2.0" stroke-linejoin="round" stroke-linecap="square"/>
<polyline points="487.9,318.5 490.0,320.6" fill="none" stroke="#1f77b4" stroke-width="2.0" stroke-linejoin="round" stroke-linecap="square"/>
<polyline points="496.5,312.7 498.6,321.1 500.8,321.4 502.9,331.6 505.1,342.8 507.2,364.7 509.4,350.6 511.5,339.1 513.7,349.3 515.8,379.4 518.0,345.4 520.1,340.2 522.3,336.0 524.4,331.8 526.6,316.7 528.7,320.6 530.9,325.4 533.0,325.7 535.2,308.8 537.3,307.2 539.5,339.1 541.6,329.5 543.8,321.6 545.9,290.3 548.1,302.5 550.2,321.8 552.4,328.4 554.5,325.6 556.7,336.2 558.8,317.5 561.0,314.7 563.1,314.4 565.3,339.1 567.4,332.1 569.6,329.7 571.7,299.7 573.9,335.2 576.0,328.8 578.2,339.3 580.3,324.3 582.5,344.1 584.6,325.4 586.8,322.0 589.0,335.9 591.1,337.1 593.2,337.3 595.4,315.0 597.5,307.2 599.7,348.3 601.9,341.4 604.0,336.2 606.1,319.0 608.3,317.8 610.5,336.2 612.6,322.0 614.8,309.6 616.9,332.5 619.0,341.3 621.2,327.6 623.4,350.5 625.5,370.7 627.6,359.2 629.8,355.9 632.0,354.4 634.1,342.9 636.3,343.2 638.4,347.1 640.6,326.0 642.7,329.6 644.9,330.7 647.0,340.1 649.2,350.3 651.3,333.4 653.5,312.9 655.6,314.4" fill="none" stroke="#1f77b4" stroke-width="2.0" stroke-linejoin="round" stroke-linecap="square"/>
<polyline points="70.7,342.0 290.0,321.5 298.8,320.8 310.1,319.5 315.4,320.1 319.8,322.1 325.0,325.6 330.3,327.9 335.5,328.8 350.0,328.8 382.0,328.1 388.2,328.8 396.3,330.4 404.5,332.9 420.9,333.3 520.0,332.9 600.0,332.3 655.8,332.0" fill="none" stroke="#ff7f0e" stroke-width="2.0" stroke-linejoin="round" stroke-dasharray="6.94 3" stroke-dashoffset="3"/>
</g>
<rect x="41.5" y="272.3" width="642.8" height="115.0" fill="none" stroke="#000" stroke-width="0.98"/>
<line x1="63.89" x2="63.89" y1="387.3" y2="389.8" stroke="#000" stroke-width="0.74"/>
<line x1="89.69" x2="89.69" y1="387.3" y2="389.8" stroke="#000" stroke-width="0.74"/>
<line x1="115.50" x2="115.50" y1="387.3" y2="391.675" stroke="#000" stroke-width="0.98"/>
<line x1="141.31" x2="141.31" y1="387.3" y2="389.8" stroke="#000" stroke-width="0.74"/>
<line x1="167.11" x2="167.11" y1="387.3" y2="389.8" stroke="#000" stroke-width="0.74"/>
<line x1="192.91" x2="192.91" y1="387.3" y2="389.8" stroke="#000" stroke-width="0.74"/>
<line x1="218.72" x2="218.72" y1="387.3" y2="391.675" stroke="#000" stroke-width="0.98"/>
<line x1="244.53" x2="244.53" y1="387.3" y2="389.8" stroke="#000" stroke-width="0.74"/>
<line x1="270.33" x2="270.33" y1="387.3" y2="389.8" stroke="#000" stroke-width="0.74"/>
<line x1="296.13" x2="296.13" y1="387.3" y2="389.8" stroke="#000" stroke-width="0.74"/>
<line x1="321.94" x2="321.94" y1="387.3" y2="391.675" stroke="#000" stroke-width="0.98"/>
<line x1="347.75" x2="347.75" y1="387.3" y2="389.8" stroke="#000" stroke-width="0.74"/>
<line x1="373.55" x2="373.55" y1="387.3" y2="389.8" stroke="#000" stroke-width="0.74"/>
<line x1="399.36" x2="399.36" y1="387.3" y2="389.8" stroke="#000" stroke-width="0.74"/>
<line x1="425.16" x2="425.16" y1="387.3" y2="391.675" stroke="#000" stroke-width="0.98"/>
<line x1="450.96" x2="450.96" y1="387.3" y2="389.8" stroke="#000" stroke-width="0.74"/>
<line x1="476.77" x2="476.77" y1="387.3" y2="389.8" stroke="#000" stroke-width="0.74"/>
<line x1="502.57" x2="502.57" y1="387.3" y2="389.8" stroke="#000" stroke-width="0.74"/>
<line x1="528.38" x2="528.38" y1="387.3" y2="391.675" stroke="#000" stroke-width="0.98"/>
<line x1="554.18" x2="554.18" y1="387.3" y2="389.8" stroke="#000" stroke-width="0.74"/>
<line x1="579.99" x2="579.99" y1="387.3" y2="389.8" stroke="#000" stroke-width="0.74"/>
<line x1="605.80" x2="605.80" y1="387.3" y2="389.8" stroke="#000" stroke-width="0.74"/>
<line x1="631.60" x2="631.60" y1="387.3" y2="391.675" stroke="#000" stroke-width="0.98"/>
<line x1="657.40" x2="657.40" y1="387.3" y2="389.8" stroke="#000" stroke-width="0.74"/>
<line x1="683.21" x2="683.21" y1="387.3" y2="389.8" stroke="#000" stroke-width="0.74"/>
<g clip-path="url(#clipd)">
<clipPath id="clipd"><rect x="41.5" y="428.3" width="642.8" height="57.099999999999966"/></clipPath>
<polyline points="70.7,485.6 72.8,485.6 75.0,485.6 77.2,485.6 79.3,485.6 81.5,485.6 83.6,485.6 85.8,485.6 87.9,485.6 90.0,485.6 92.2,485.6 94.3,485.6 96.5,485.6 98.7,485.6 100.8,485.6 103.0,485.6 105.1,485.6 107.3,485.6 109.4,485.6 111.6,485.6 113.7,485.6 115.9,485.6 118.0,485.6 120.2,485.6 122.3,485.6 124.5,485.6 126.6,485.6 128.8,485.6 130.9,485.6 133.1,485.6 135.2,485.6 137.4,485.6 139.5,485.6 141.7,485.6 143.8,485.6 146.0,485.6 148.1,485.6 150.3,485.6 152.4,485.6 154.6,485.6 156.7,485.6 158.9,485.6 161.0,485.6 163.2,485.6 165.3,485.6 167.5,485.6 169.6,485.6 171.8,485.6 173.9,485.6 176.1,485.6 178.2,485.6 180.4,485.6 182.5,485.6 184.7,485.6 186.8,485.6 189.0,485.6 191.1,485.6 193.3,485.6 195.4,485.6 197.6,485.6 199.7,485.6 201.9,485.6 204.0,485.6 206.2,485.6 208.3,485.6 210.5,485.6 212.6,485.6 214.8,485.6 216.9,485.6 219.1,485.6 221.2,485.6 223.4,485.6 225.5,485.6 227.7,485.6 229.8,485.6 232.0,485.6 234.1,485.6 236.3,485.6 238.4,485.6 240.6,485.6 242.7,485.6 244.9,485.6 247.0,485.6 249.2,485.6 251.3,485.6 253.5,485.6 255.6,485.6 257.8,485.6 259.9,485.6 262.1,485.6 264.2,485.6 266.4,485.6 268.5,485.6 270.7,485.6 272.8,485.6 275.0,485.6 277.1,485.6 279.3,485.6 281.4,485.6 283.6,485.6 285.7,485.6 287.9,485.6 290.0,485.6 292.2,485.6 294.3,485.6 296.5,485.6 298.6,485.6 300.8,485.6 302.9,485.6 303.9,485.3 306.9,484.7 309.9,484.3 313.4,484.0 315.3,483.0 315.9,478.7 317.8,474.2 320.3,474.2 322.3,459.5 324.6,465.3 326.2,478.7 328.7,475.0 330.7,475.4 333.2,475.4 335.2,484.9 337.4,485.6 339.5,485.6 341.6,485.6 343.8,485.6 345.9,485.6 348.1,485.6 350.2,485.6 352.4,485.6 354.6,485.6 356.7,485.6 358.9,485.6 361.0,485.6 363.1,485.6 365.3,485.6 367.5,485.6 369.6,485.6 371.8,485.6 373.9,485.6 376.1,485.6 378.2,485.6 380.4,485.1 382.5,484.8 384.7,483.6 386.8,482.3 389.0,482.5 391.1,483.6 393.3,482.3 395.4,481.2 397.6,477.1 399.7,476.8 401.9,475.1 404.0,484.2 406.2,485.1 408.3,485.0 410.5,484.9 412.6,484.7 414.8,484.4 416.9,484.9 419.1,485.2 421.2,485.6 423.4,485.6 425.5,485.6 427.7,485.6 429.8,485.6 432.0,485.6 434.1,485.6 436.3,485.6 438.4,485.6 440.6,485.6 442.7,485.6 444.9,485.6 447.0,485.6 449.2,485.6 451.3,485.6 453.5,485.6 455.6,485.6 457.8,485.6 459.9,485.6 462.1,485.6 464.2,485.6 466.4,485.6 468.5,485.6 470.7,485.6 472.8,485.6 475.0,485.6 477.1,485.6 479.3,485.6 481.4,485.6 483.6,485.6 485.7,485.6 487.9,485.6 490.0,485.6 492.2,485.6 494.3,485.6 496.5,485.6 498.6,485.6 500.8,485.6 502.9,485.6 505.1,485.6 507.2,485.6 509.4,485.6 511.5,485.6 513.7,485.6 515.8,485.6 518.0,485.6 520.1,485.6 522.3,485.6 524.4,485.6 526.6,485.6 528.7,485.6 530.9,485.6 533.0,485.6 535.2,485.6 537.3,485.6 539.5,485.6 541.6,485.6 543.8,485.6 545.9,485.6 548.1,485.6 550.2,485.6 552.4,485.6 554.5,485.6 556.7,485.6 558.8,485.6 561.0,485.6 563.1,485.6 565.3,485.6 567.4,485.6 569.6,485.6 571.7,485.6 573.9,485.6 576.0,485.6 578.2,485.6 580.3,485.6 582.5,485.6 584.6,485.6 586.8,485.6 589.0,485.6 591.1,485.6 593.2,485.6 595.4,485.6 597.5,485.6 599.7,485.6 601.9,485.6 604.0,485.6 606.1,485.6 608.3,485.6 610.5,485.6 612.6,485.6 614.8,485.6 616.9,485.6 619.0,485.6 621.2,485.6 623.4,485.6 625.5,485.6 627.6,485.6 629.8,485.6 632.0,485.6 634.1,485.6 636.3,485.6 638.4,485.6 640.6,485.6 642.7,485.6 644.9,485.6 647.0,485.6 649.2,485.6 651.3,485.6 653.5,485.6 655.6,485.6" fill="none" stroke="#1f77b4" stroke-width="2.0" stroke-linejoin="round" stroke-linecap="square"/>
</g>
<rect x="41.5" y="428.3" width="642.8" height="57.099999999999966" fill="none" stroke="#000" stroke-width="0.98"/>
<line x1="63.89" x2="63.89" y1="485.4" y2="487.9" stroke="#000" stroke-width="0.74"/>
<line x1="89.69" x2="89.69" y1="485.4" y2="487.9" stroke="#000" stroke-width="0.74"/>
<line x1="115.50" x2="115.50" y1="485.4" y2="489.775" stroke="#000" stroke-width="0.98"/>
<line x1="141.31" x2="141.31" y1="485.4" y2="487.9" stroke="#000" stroke-width="0.74"/>
<line x1="167.11" x2="167.11" y1="485.4" y2="487.9" stroke="#000" stroke-width="0.74"/>
<line x1="192.91" x2="192.91" y1="485.4" y2="487.9" stroke="#000" stroke-width="0.74"/>
<line x1="218.72" x2="218.72" y1="485.4" y2="489.775" stroke="#000" stroke-width="0.98"/>
<line x1="244.53" x2="244.53" y1="485.4" y2="487.9" stroke="#000" stroke-width="0.74"/>
<line x1="270.33" x2="270.33" y1="485.4" y2="487.9" stroke="#000" stroke-width="0.74"/>
<line x1="296.13" x2="296.13" y1="485.4" y2="487.9" stroke="#000" stroke-width="0.74"/>
<line x1="321.94" x2="321.94" y1="485.4" y2="489.775" stroke="#000" stroke-width="0.98"/>
<line x1="347.75" x2="347.75" y1="485.4" y2="487.9" stroke="#000" stroke-width="0.74"/>
<line x1="373.55" x2="373.55" y1="485.4" y2="487.9" stroke="#000" stroke-width="0.74"/>
<line x1="399.36" x2="399.36" y1="485.4" y2="487.9" stroke="#000" stroke-width="0.74"/>
<line x1="425.16" x2="425.16" y1="485.4" y2="489.775" stroke="#000" stroke-width="0.98"/>
<line x1="450.96" x2="450.96" y1="485.4" y2="487.9" stroke="#000" stroke-width="0.74"/>
<line x1="476.77" x2="476.77" y1="485.4" y2="487.9" stroke="#000" stroke-width="0.74"/>
<line x1="502.57" x2="502.57" y1="485.4" y2="487.9" stroke="#000" stroke-width="0.74"/>
<line x1="528.38" x2="528.38" y1="485.4" y2="489.775" stroke="#000" stroke-width="0.98"/>
<line x1="554.18" x2="554.18" y1="485.4" y2="487.9" stroke="#000" stroke-width="0.74"/>
<line x1="579.99" x2="579.99" y1="485.4" y2="487.9" stroke="#000" stroke-width="0.74"/>
<line x1="605.80" x2="605.80" y1="485.4" y2="487.9" stroke="#000" stroke-width="0.74"/>
<line x1="631.60" x2="631.60" y1="485.4" y2="489.775" stroke="#000" stroke-width="0.98"/>
<line x1="657.40" x2="657.40" y1="485.4" y2="487.9" stroke="#000" stroke-width="0.74"/>
<line x1="683.21" x2="683.21" y1="485.4" y2="487.9" stroke="#000" stroke-width="0.74"/>
<line x1="37.125" x2="41.5" y1="54.9" y2="54.9" stroke="#000" stroke-width="0.98"/>
<text x="32.8" y="59.55" font-size="12.4" text-anchor="end">−4</text>
<line x1="37.125" x2="41.5" y1="92.9" y2="92.9" stroke="#000" stroke-width="0.98"/>
<text x="32.8" y="97.55" font-size="12.4" text-anchor="end">−6</text>
<line x1="37.125" x2="41.5" y1="130.9" y2="130.9" stroke="#000" stroke-width="0.98"/>
<text x="32.8" y="135.55" font-size="12.4" text-anchor="end">−8</text>
<line x1="37.125" x2="41.5" y1="231.2" y2="231.2" stroke="#000" stroke-width="0.98"/>
<text x="32.8" y="235.85" font-size="12.4" text-anchor="end">0</text>
<line x1="37.125" x2="41.5" y1="193.13" y2="193.13" stroke="#000" stroke-width="0.98"/>
<text x="32.8" y="197.78" font-size="12.4" text-anchor="end">20</text>
<line x1="39.0" x2="41.5" y1="212.17" y2="212.17" stroke="#000" stroke-width="0.74"/>
<line x1="39.0" x2="41.5" y1="174.1" y2="174.1" stroke="#000" stroke-width="0.74"/>
<line x1="37.125" x2="41.5" y1="485.4" y2="485.4" stroke="#000" stroke-width="0.98"/>
<text x="32.8" y="490.05" font-size="12.4" text-anchor="end">0</text>
<line x1="37.125" x2="41.5" y1="447.33" y2="447.33" stroke="#000" stroke-width="0.98"/>
<text x="32.8" y="451.98" font-size="12.4" text-anchor="end">20</text>
<line x1="39.0" x2="41.5" y1="466.37" y2="466.37" stroke="#000" stroke-width="0.74"/>
<line x1="39.0" x2="41.5" y1="428.3" y2="428.3" stroke="#000" stroke-width="0.74"/>
<line x1="37.125" x2="41.5" y1="293.5" y2="293.5" stroke="#000" stroke-width="0.98"/>
<text x="32.8" y="298.15" font-size="12.4" text-anchor="end">1</text>
<line x1="37.125" x2="41.5" y1="331.95" y2="331.95" stroke="#000" stroke-width="0.98"/>
<text x="32.8" y="336.60" font-size="12.4" text-anchor="end">0</text>
<line x1="37.125" x2="41.5" y1="370.4" y2="370.4" stroke="#000" stroke-width="0.98"/>
<text x="32.8" y="375.05" font-size="12.4" text-anchor="end">−1</text>
<text x="115.85" y="504.18" font-size="12.4" text-anchor="middle">2004</text>
<text x="219.07" y="504.18" font-size="12.4" text-anchor="middle">2008</text>
<text x="322.29" y="504.18" font-size="12.4" text-anchor="middle">2012</text>
<text x="425.51" y="504.18" font-size="12.4" text-anchor="middle">2016</text>
<text x="528.73" y="504.18" font-size="12.4" text-anchor="middle">2020</text>
<text x="631.95" y="504.18" font-size="12.4" text-anchor="middle">2024</text>
<text x="41.5" y="11.10" font-size="14.85">a.</text>
<text x="362.90" y="11.10" font-size="14.85" text-anchor="middle">TWS</text>
<text x="41.5" y="166.70" font-size="14.85">b.</text>
<text x="362.90" y="166.70" font-size="14.85" text-anchor="middle">probability of trend change</text>
<text x="41.5" y="264.90" font-size="14.85">c.</text>
<text x="362.90" y="264.90" font-size="14.85" text-anchor="middle">Detrended TWS</text>
<text x="41.5" y="420.90" font-size="14.85">d.</text>
<text x="362.90" y="420.90" font-size="14.85" text-anchor="middle">probability of trend change</text>
<text transform="translate(7.2,75.95) rotate(-90)" font-size="12.4" text-anchor="middle">cm</text>
<text transform="translate(10.0,202.65) rotate(-90)" font-size="12.4" text-anchor="middle">%</text>
<text transform="translate(7.2,329.80) rotate(-90)" font-size="12.4" text-anchor="middle">cm</text>
<text transform="translate(10.0,456.85) rotate(-90)" font-size="12.4" text-anchor="middle">%</text>
<rect x="556.5" y="24.3" width="122.2" height="40.2" rx="2.5" ry="2.5" fill="#fff" fill-opacity="0.8" stroke="#ccc" stroke-opacity="0.8" stroke-width="0.98"/>
<line x1="561.4" x2="586" y1="34.6" y2="34.6" stroke="#1f77b4" stroke-width="2.0" stroke-linecap="square"/>
<line x1="561.4" x2="586" y1="52.8" y2="52.8" stroke="#ff7f0e" stroke-width="2.0" stroke-dasharray="6.83 2.95"/>
<text x="596.4" y="39.2" font-size="12.4">data</text>
<text x="596.4" y="57.3" font-size="12.4">BEAST trend</text>
</svg>
</body></html>
